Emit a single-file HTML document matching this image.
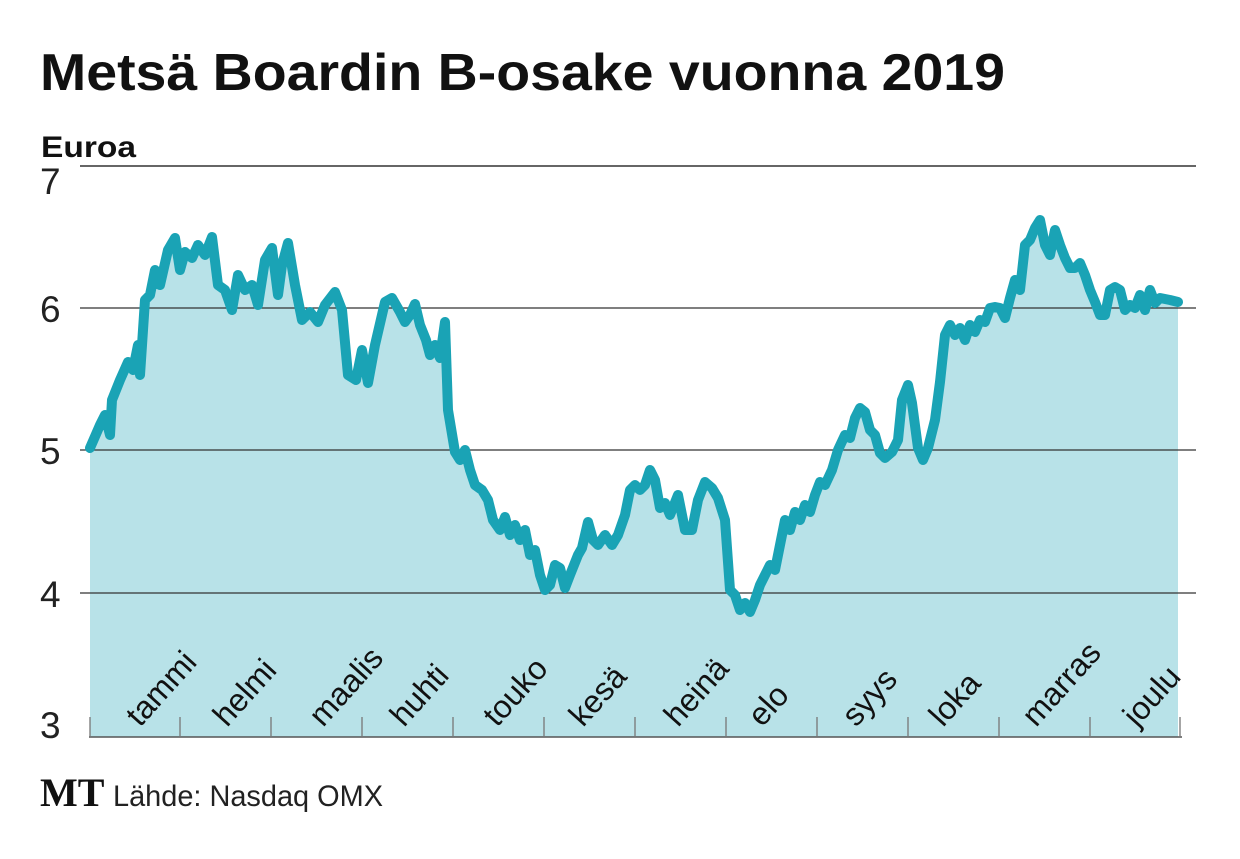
<!DOCTYPE html><html><head><meta charset="utf-8"><style>
body{margin:0;background:#fff;width:1240px;height:854px;overflow:hidden;font-family:"Liberation Sans",sans-serif}
</style></head><body>
<svg width="1240" height="854" xmlns="http://www.w3.org/2000/svg">
<text x="40" y="90" font-size="52" font-weight="bold" fill="#111" textLength="965" lengthAdjust="spacingAndGlyphs">Metsä Boardin B-osake vuonna 2019</text>
<text x="41" y="157" font-size="30" font-weight="bold" fill="#111" textLength="95" lengthAdjust="spacingAndGlyphs">Euroa</text>
<g font-size="37" fill="#222"><text x="40" y="194">7</text><text x="40" y="322">6</text><text x="40" y="464">5</text><text x="40" y="607">4</text><text x="40" y="738">3</text></g>
<line x1="80" y1="166" x2="1196" y2="166" stroke="#333" stroke-width="1.5"/>
<polygon fill="#b8e2e8" points="90,737 90,448 100,425 105,415 110,435 112,400 120,380 128,362 133,370 138,345 140,375 145,300 150,295 155,270 160,285 168,250 175,238 180,270 185,252 192,258 198,245 205,255 212,237 218,285 225,290 232,310 238,275 245,290 252,285 258,305 265,260 272,248 278,295 282,265 288,243 295,285 302,320 310,312 318,322 325,305 335,292 342,310 348,375 356,380 362,350 368,383 375,345 385,302 392,298 400,312 405,322 410,315 415,304 420,325 426,340 430,355 435,345 440,358 445,322 448,410 455,452 460,460 465,450 470,470 475,485 482,490 488,500 493,520 500,530 505,517 510,535 515,525 520,540 525,530 530,555 535,550 540,575 545,590 550,585 555,565 560,568 565,588 570,575 578,555 582,548 588,522 593,540 598,545 605,535 612,545 618,535 625,515 630,490 635,485 640,490 645,485 650,470 655,480 660,508 665,503 670,515 678,495 685,530 692,530 698,500 705,482 712,488 718,498 725,520 730,590 735,595 740,610 745,603 750,612 755,600 760,585 765,575 770,565 775,570 780,545 785,520 790,530 795,512 800,520 805,505 810,512 815,495 820,482 825,485 832,470 838,450 845,435 850,438 855,418 860,408 865,412 870,430 875,435 880,453 885,458 892,452 898,440 902,400 908,385 912,403 918,448 923,460 928,448 935,420 940,382 945,335 950,325 955,335 960,328 965,340 970,325 975,332 980,320 985,322 990,308 995,307 1000,308 1005,318 1010,298 1015,280 1020,290 1025,245 1030,240 1035,228 1040,220 1045,245 1050,255 1055,230 1060,245 1065,258 1070,268 1075,268 1080,263 1085,275 1090,290 1095,302 1100,315 1105,315 1110,290 1115,287 1120,290 1125,310 1130,305 1135,308 1140,295 1145,310 1150,290 1155,303 1160,298 1170,300 1178,302 1178,737"/>
<g stroke="#333" stroke-width="1.3"><line x1="80" y1="308" x2="1196" y2="308"/><line x1="80" y1="450" x2="1196" y2="450"/><line x1="80" y1="593" x2="1196" y2="593"/></g>
<polyline fill="none" stroke="#1aa3b5" stroke-width="10" stroke-linejoin="round" stroke-linecap="round" points="90,448 100,425 105,415 110,435 112,400 120,380 128,362 133,370 138,345 140,375 145,300 150,295 155,270 160,285 168,250 175,238 180,270 185,252 192,258 198,245 205,255 212,237 218,285 225,290 232,310 238,275 245,290 252,285 258,305 265,260 272,248 278,295 282,265 288,243 295,285 302,320 310,312 318,322 325,305 335,292 342,310 348,375 356,380 362,350 368,383 375,345 385,302 392,298 400,312 405,322 410,315 415,304 420,325 426,340 430,355 435,345 440,358 445,322 448,410 455,452 460,460 465,450 470,470 475,485 482,490 488,500 493,520 500,530 505,517 510,535 515,525 520,540 525,530 530,555 535,550 540,575 545,590 550,585 555,565 560,568 565,588 570,575 578,555 582,548 588,522 593,540 598,545 605,535 612,545 618,535 625,515 630,490 635,485 640,490 645,485 650,470 655,480 660,508 665,503 670,515 678,495 685,530 692,530 698,500 705,482 712,488 718,498 725,520 730,590 735,595 740,610 745,603 750,612 755,600 760,585 765,575 770,565 775,570 780,545 785,520 790,530 795,512 800,520 805,505 810,512 815,495 820,482 825,485 832,470 838,450 845,435 850,438 855,418 860,408 865,412 870,430 875,435 880,453 885,458 892,452 898,440 902,400 908,385 912,403 918,448 923,460 928,448 935,420 940,382 945,335 950,325 955,335 960,328 965,340 970,325 975,332 980,320 985,322 990,308 995,307 1000,308 1005,318 1010,298 1015,280 1020,290 1025,245 1030,240 1035,228 1040,220 1045,245 1050,255 1055,230 1060,245 1065,258 1070,268 1075,268 1080,263 1085,275 1090,290 1095,302 1100,315 1105,315 1110,290 1115,287 1120,290 1125,310 1130,305 1135,308 1140,295 1145,310 1150,290 1155,303 1160,298 1170,300 1178,302"/>
<line x1="89" y1="737" x2="1182" y2="737" stroke="#555" stroke-width="1.5"/>
<g stroke="#777" stroke-width="1.3">
<line x1="90" y1="717" x2="90" y2="737"/><line x1="180" y1="717" x2="180" y2="737"/><line x1="271" y1="717" x2="271" y2="737"/><line x1="362" y1="717" x2="362" y2="737"/><line x1="453" y1="717" x2="453" y2="737"/><line x1="544" y1="717" x2="544" y2="737"/><line x1="635" y1="717" x2="635" y2="737"/><line x1="726" y1="717" x2="726" y2="737"/><line x1="817" y1="717" x2="817" y2="737"/><line x1="908" y1="717" x2="908" y2="737"/><line x1="999" y1="717" x2="999" y2="737"/><line x1="1090" y1="717" x2="1090" y2="737"/><line x1="1180" y1="717" x2="1180" y2="737"/>
</g>
<g font-size="32" fill="#111">
<text transform="translate(140,728) rotate(-48)">tammi</text>
<text transform="translate(227,728) rotate(-48)">helmi</text>
<text transform="translate(323,728) rotate(-48)">maalis</text>
<text transform="translate(404,728) rotate(-48)">huhti</text>
<text transform="translate(497,728) rotate(-48)">touko</text>
<text transform="translate(583,728) rotate(-48)">kesä</text>
<text transform="translate(678,728) rotate(-48)">heinä</text>
<text transform="translate(762,728) rotate(-48)">elo</text>
<text transform="translate(856,728) rotate(-48)">syys</text>
<text transform="translate(943,728) rotate(-48)">loka</text>
<text transform="translate(1036,728) rotate(-48)">marras</text>
<text transform="translate(1137,728) rotate(-48)">joulu</text>
</g>
<text x="40" y="806" font-size="40" font-weight="bold" font-family="Liberation Serif" fill="#111">MT</text>
<text x="113" y="806" font-size="30" fill="#222" textLength="270" lengthAdjust="spacingAndGlyphs">Lähde: Nasdaq OMX</text>
</svg>
</body></html>
